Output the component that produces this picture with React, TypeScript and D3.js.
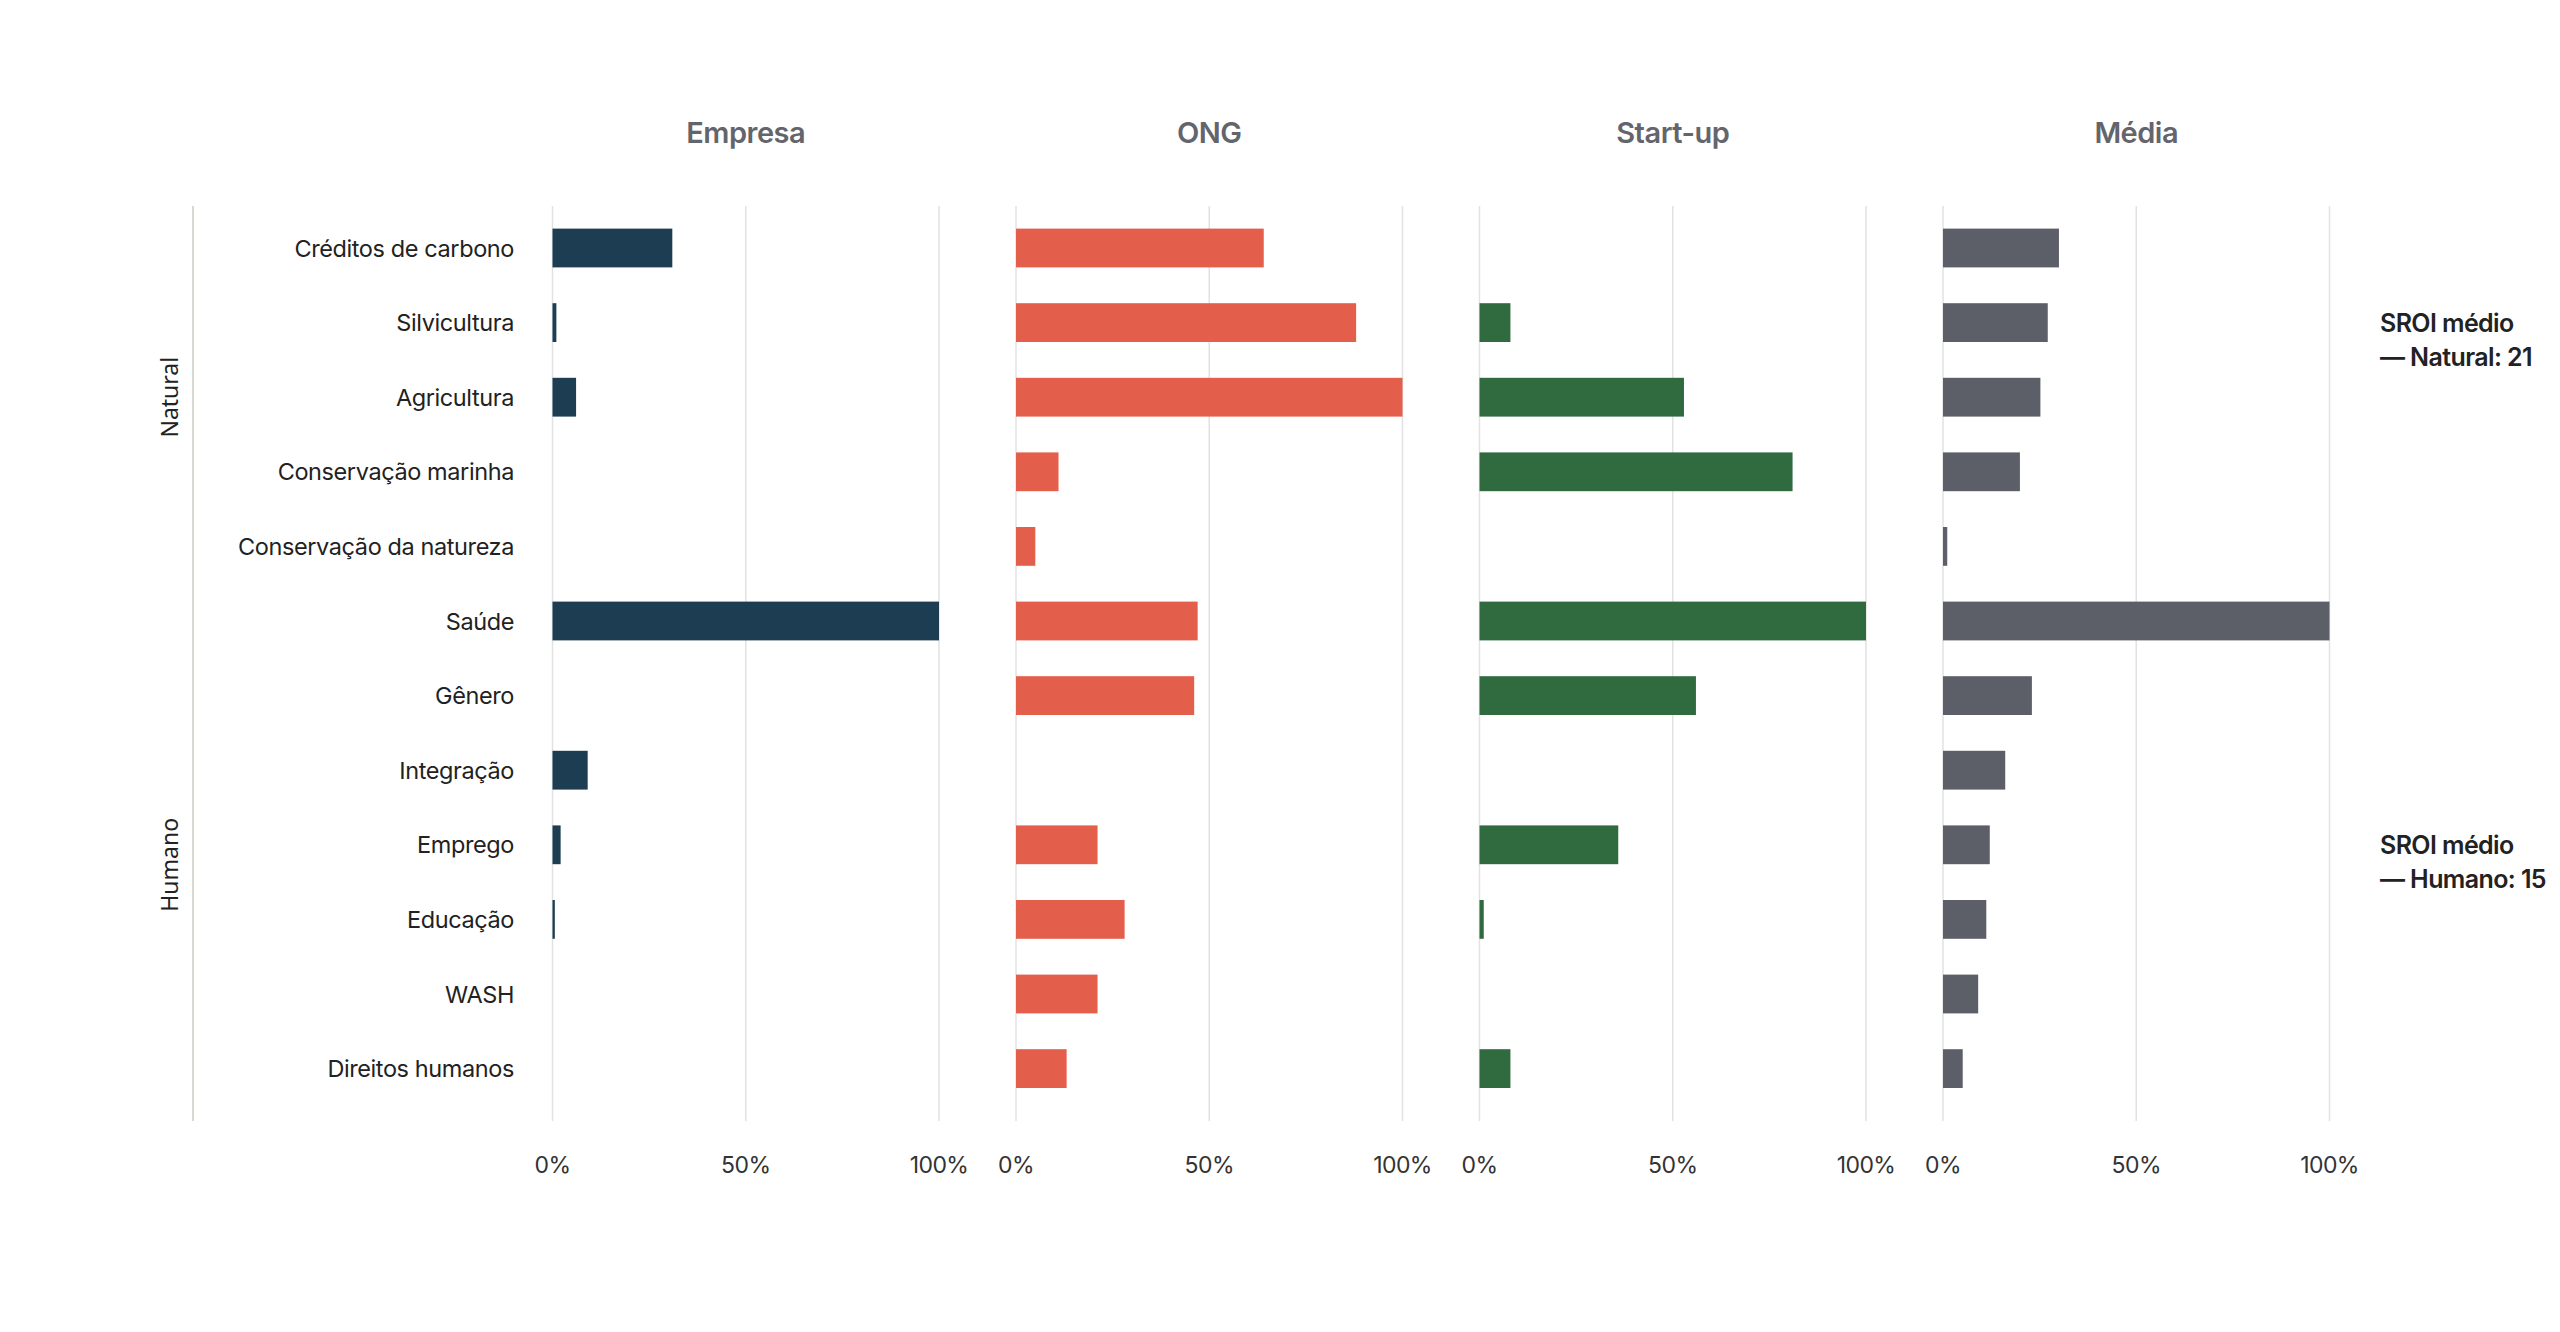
import React from "react";
import * as d3 from "d3";

const categories = [
  "Créditos de carbono",
  "Silvicultura",
  "Agricultura",
  "Conservação marinha",
  "Conservação da natureza",
  "Saúde",
  "Gênero",
  "Integração",
  "Emprego",
  "Educação",
  "WASH",
  "Direitos humanos",
];

const groups = [
  { name: "Natural", first: 0, last: 4, note: ["SROI médio", "— Natural: 21"], noteRow: 1, labelShift: 0 },
  { name: "Humano", first: 5, last: 11, note: ["SROI médio", "— Humano: 15"], noteRow: 8, labelShift: 20 },
];

const panelNames = ["Empresa", "ONG", "Start-up", "Média"];
const panelColors = ["#1d3e52", "#e45e4c", "#2f6b3f", "#5c5f67"];

const empresaValues = [31, 1, 6.1, 0, 0, 100, 0, 9.1, 2.1, 0.6, 0, 0];
const ongValues = [64.1, 88, 100, 11, 5, 47, 46.1, 0, 21.1, 28.1, 21.1, 13.1];
const startupValues = [0, 8, 52.9, 81, 0, 100, 56, 0, 35.9, 1.1, 0, 8];
const mediaValues = [30, 27.1, 25.2, 19.9, 1.1, 100, 23, 16.1, 12.1, 11.2, 9.1, 5.1];

const seriesValues = [empresaValues, ongValues, startupValues, mediaValues];
const tickValues = [0, 50, 100];
const tickLabels = ["0%", "50%", "100%"];

const W = 2560;
const H = 1332;
const FONT = "Inter, 'Noto Sans', sans-serif";

export default function App() {
  const panelX = d3
    .scaleBand<string>()
    .domain(panelNames)
    .range([552.5, 2329.5])
    .paddingInner(77 / 463.5)
    .paddingOuter(0);
  const y = d3.scaleBand<string>().domain(categories).range([210.7, 1105.9]).paddingInner(0.48).paddingOuter(0.24);
  const gridTop = 206;
  const gridBottom = 1121;

  return (
    <svg
      width={W}
      height={H}
      viewBox={`0 0 ${W} ${H}`}
      style={{ position: "absolute", left: 0, top: 0, display: "block", background: "#fff" }}
      fontFamily={FONT}
    >
      <rect x={0} y={0} width={W} height={H} fill="#ffffff" />
      <line x1={193} x2={193} y1={gridTop} y2={gridBottom} stroke="#d9d9d3" strokeWidth={2} />

      {groups.map((g) => {
        const top = y(categories[g.first])!;
        const bottom = y(categories[g.last])! + y.bandwidth();
        const cy = (top + bottom) / 2 + g.labelShift;
        return (
          <text
            key={g.name}
            transform={`translate(178, ${cy}) rotate(-90)`}
            textAnchor="middle"
            fontSize={23}
            fill="#222"
            fontFamily="'Noto Sans', Inter, sans-serif"
          >
            {g.name}
          </text>
        );
      })}

      {categories.map((c) => (
        <text
          key={c}
          x={514}
          y={y(c)! + y.bandwidth() / 2}
          textAnchor="end"
          dominantBaseline="central"
          fontSize={23.5}
          letterSpacing={-0.4}
          fill="#222"
        >
          {c}
        </text>
      ))}

      {panelNames.map((p, pi) => {
        const x0 = panelX(p)!;
        const x = d3.scaleLinear().domain([0, 100]).range([x0, x0 + panelX.bandwidth()]);
        const vals = seriesValues[pi];
        return (
          <g key={p}>
            <text
              x={x(50)}
              y={132}
              textAnchor="middle"
              dominantBaseline="central"
              fontSize={29}
              fontWeight={600}
              letterSpacing={-0.5}
              fill="#64656c"
            >
              {p}
            </text>
            {tickValues.map((t, ti) => (
              <g key={t}>
                <line x1={x(t)} x2={x(t)} y1={gridTop} y2={gridBottom} stroke="#e2e2e2" strokeWidth={1.5} />
                <text
                  x={x(t)}
                  y={1165}
                  textAnchor="middle"
                  dominantBaseline="central"
                  fontSize={23}
                  letterSpacing={-0.6}
                  fill="#333"
                >
                  {tickLabels[ti]}
                </text>
              </g>
            ))}
            {categories.map((c, ci) =>
              vals[ci] > 0 ? (
                <rect
                  key={c}
                  x={x(0)}
                  y={y(c)!}
                  width={x(vals[ci]) - x(0)}
                  height={y.bandwidth()}
                  fill={panelColors[pi]}
                />
              ) : null
            )}
          </g>
        );
      })}

      {groups.map((g) => {
        const cy = y(categories[g.noteRow])! + y.bandwidth() / 2;
        return (
          <g key={g.name + "-note"}>
            <text x={2380} y={cy} dominantBaseline="central" fontSize={25} fontWeight={600} letterSpacing={-0.6} fill="#222">
              {g.note[0]}
            </text>
            <text x={2380} y={cy + 34} dominantBaseline="central" fontSize={25} fontWeight={600} letterSpacing={-0.6} fill="#222">
              {g.note[1]}
            </text>
          </g>
        );
      })}
    </svg>
  );
}
